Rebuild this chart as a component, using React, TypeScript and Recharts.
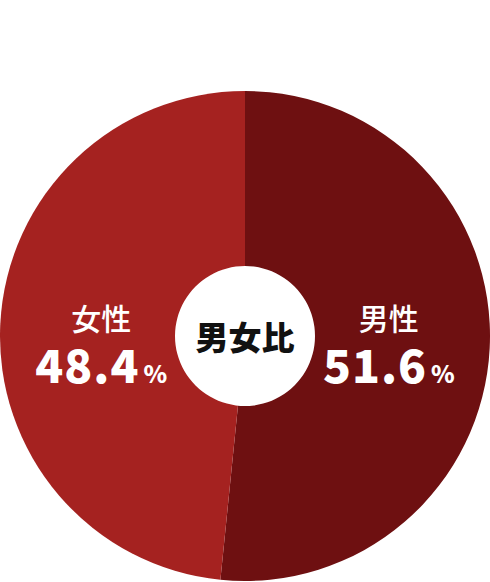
import React from "react";
import { PieChart, Pie, Cell } from "recharts";

const labels = ["男性", "女性"];
const shares = [51.6, 48.4];
const colors = ["#6e1011", "#a52220"];
const centerTitle = "男女比";

const data = labels.map((name, i) => ({ name, value: shares[i] }));

const CX = 245;
const CY = 336;
const JP = '"Noto Sans CJK JP", "Noto Sans", sans-serif';
const RAD = Math.PI / 180;

// labels sit level with each other, only the side comes from the slice angle
function renderLabel(props: any) {
  const { startAngle, endAngle, name, value } = props;
  const mid = (startAngle + endAngle) / 2;
  const x = CX + 144 * Math.cos(-mid * RAD);
  return (
    <g>
      <text x={x} y={330} textAnchor="middle" fill="#fff" fontFamily={JP} fontWeight={500} fontSize={30}>
        {name}
      </text>
      <text x={x} y={383} textAnchor="middle" fill="#fff" fontFamily={JP} fontWeight={900}>
        <tspan fontSize={46} letterSpacing={1}>{Number(value).toFixed(1)}</tspan>
        <tspan fontSize={24} dx={4}>%</tspan>
      </text>
    </g>
  );
}

function renderCenter() {
  return (
    <text x={CX} y={350} textAnchor="middle" fill="#111" fontFamily={JP} fontWeight={900} fontSize={33}>
      {centerTitle}
    </text>
  );
}

export default function App() {
  return (
    <div style={{ position: "absolute", top: 0, left: 0, width: 490, height: 582 }}>
      <PieChart width={490} height={582} margin={{ top: 0, right: 0, bottom: 0, left: 0 }}>
        <Pie
          data={data}
          dataKey="value"
          cx={CX}
          cy={CY}
          outerRadius={245}
          innerRadius={0}
          startAngle={90}
          endAngle={-270}
          stroke="none"
          label={renderLabel}
          labelLine={false}
          isAnimationActive={false}
        >
          {data.map((d, i) => (
            <Cell key={d.name} fill={colors[i]} />
          ))}
        </Pie>
        <Pie
          data={[{ name: centerTitle, value: 1 }]}
          dataKey="value"
          cx={CX}
          cy={CY}
          outerRadius={70}
          fill="#fff"
          stroke="none"
          label={renderCenter}
          labelLine={false}
          isAnimationActive={false}
        />
      </PieChart>
    </div>
  );
}
